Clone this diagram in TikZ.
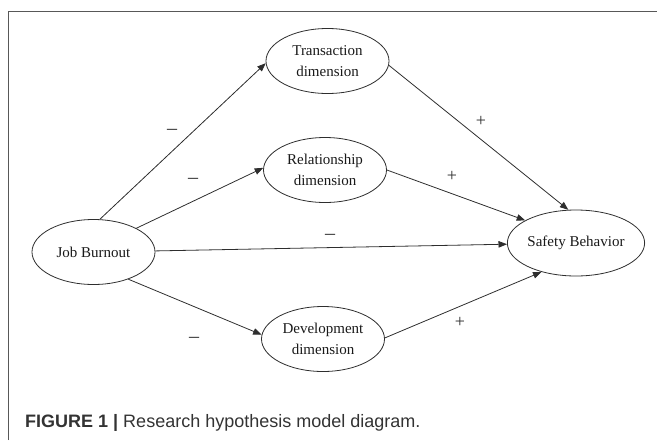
\documentclass[tikz,border=0pt]{standalone}
\usepackage{fontspec}
\setmainfont{Liberation Serif}
\newfontfamily\capfont{Liberation Sans}
\usetikzlibrary{shapes.geometric,arrows.meta}
\definecolor{linec}{HTML}{2E2E2E}
\definecolor{capc}{HTML}{333333}
\tikzset{
  latent/.style={ellipse, draw=linec, line width=0.8pt, minimum width=123pt, minimum height=65pt, inner sep=0pt, align=center, font=\fontsize{15}{21}\selectfont, text=black!90},
  path/.style={draw=linec, line width=0.8pt, -{Triangle[length=8.5pt,width=6.5pt]}},
  minussign/.style={font=\fontsize{20}{20}\selectfont, text=linec, inner sep=0pt},
  plussign/.style={font=\fontsize{18}{18}\selectfont, text=linec, inner sep=0pt},
  framec/.style={draw=linec!80, line width=0.9pt}
}
\begin{document}
\begin{tikzpicture}[x=1pt,y=-1pt]
\useasboundingbox (0,0) rectangle (657,440);
\draw[framec] (8,440) -- (8,11) -- (658,11);
\node[latent] (jb) at (93.5,252) {Job Burnout};
\node[latent] (tr) at (327.5,61) {Transaction\\dimension};
\node[latent] (rel) at (325,170) {Relationship\\dimension};
\node[latent] (dev) at (323,339) {Development\\dimension};
\node[latent, minimum width=122pt, minimum height=66pt] (sb) at (576,243) {Safety Behavior};
\draw[path] (jb.79) -- (tr.182);
\draw[path] (jb.29) -- (rel.178);
\draw[path] (jb.1) -- (sb.181);
\draw[path] (jb.-38) -- (dev.176);
\draw[path] (tr.-4) -- (sb.103);
\draw[path] (rel.east) -- (sb.156);
\draw[path] (dev.1) -- (sb.220);
\node[minussign] (m1) at (172,132) {–};
\node[minussign] (m2) at (193,181) {–};
\node[minussign] (m3) at (330,237) {–};
\node[minussign] (m4) at (194,340) {–};
\node[plussign] (p1) at (481,121) {+};
\node[plussign] (p2) at (452,176) {+};
\node[plussign] (p3) at (460,322) {+};
\node[anchor=base west, inner sep=0pt, text=capc, font=\capfont\fontsize{18}{18}\selectfont] (cap) at (25,427) {\textbf{FIGURE 1 |} Research hypothesis model diagram.};
\end{tikzpicture}
\end{document}
